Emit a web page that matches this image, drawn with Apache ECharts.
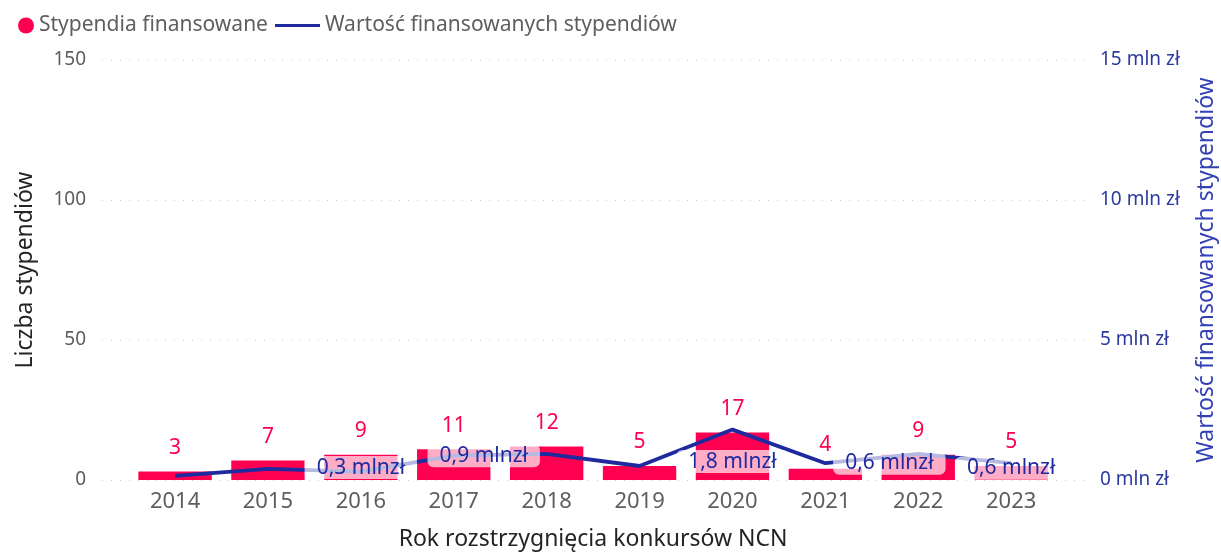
<!DOCTYPE html>
<html>
<head>
<meta charset="utf-8">
<script src="https://cdn.jsdelivr.net/npm/echarts@6/dist/echarts.min.js"></script>
<style>
  html, body { margin: 0; padding: 0; background: #fff; }
  #chart { width: 1221px; height: 552px; }
</style>
</head>
<body>
<div id="chart"></div>
<script>
// dane z wykresu
const years = ['2014', '2015', '2016', '2017', '2018', '2019', '2020', '2021', '2022', '2023'];
const scholarships = [3, 7, 9, 11, 12, 5, 17, 4, 9, 5]; // liczba stypendiów
const fundingMln = [0.15, 0.4, 0.3, 0.87, 0.93, 0.5, 1.8, 0.6, 0.93, 0.6]; // mln zł
const labelledYears = ['2016', '2017', '2020', '2021', '2023'];
const leftTicks = [0, 50, 100, 150];
const rightTicks = [0, 5, 10, 15];

const FONT = "'Segoe UI', 'Noto Sans', sans-serif";
const BAR = '#FF0050';
const LINE = '#1F2A9E';

// przesuniecia etykiet linii (Power BI rozklada je wokol punktow)
const labelOffsets = {
  '2016': [0, -4],
  '2017': [30, 0],
  '2020': [0, 32],
  '2021': [64, 0],
  '2023': [0, 5]
};

const chart = echarts.init(document.getElementById('chart'));

const lineData = fundingMln.map((v, i) => {
  const y = years[i];
  if (labelledYears.indexOf(y) === -1) return { value: v, label: { show: false } };
  return { value: v, label: { show: true, offset: labelOffsets[y] } };
});

const option = {
  animation: false,
  legend: [
    {
      data: ['Stypendia finansowane'],
      left: 13, top: 10,
      icon: 'circle',
      itemWidth: 16, itemHeight: 16, itemGap: 5,
      textStyle: { fontFamily: FONT, fontSize: 21, color: '#605E5C' }
    },
    {
      data: ['Wartość finansowanych stypendiów'],
      left: 270, top: 10,
      icon: 'rect',
      itemWidth: 45, itemHeight: 3,
      textStyle: { fontFamily: FONT, fontSize: 21, color: '#605E5C' }
    }
  ],
  grid: [
    { left: 102, right: 136, top: 60, bottom: 72, outerBoundsMode: 'none' },
    { left: 128.6, right: 163.4, top: 60, bottom: 72, outerBoundsMode: 'none' }
  ],
  xAxis: [
    { gridIndex: 0, type: 'value', min: 0, max: 1, show: false },
    {
      gridIndex: 1,
      type: 'category',
      data: years,
      axisLine: { show: false },
      axisTick: { show: false },
      axisLabel: { fontFamily: FONT, fontSize: 22, color: '#605E5C', margin: 11 },
      name: 'Rok rozstrzygnięcia konkursów NCN',
      nameLocation: 'middle',
      nameGap: 48,
      nameTextStyle: { fontFamily: FONT, fontSize: 23, color: '#252423' }
    }
  ],
  yAxis: [
    {
      gridIndex: 0,
      type: 'value',
      position: 'left',
      min: leftTicks[0], max: leftTicks[leftTicks.length - 1], interval: 50,
      axisLine: { show: false },
      axisTick: { show: false },
      axisLabel: { fontFamily: FONT, fontSize: 19, color: '#605E5C', margin: 16 },
      splitLine: { show: true, lineStyle: { color: '#C8C6C4', type: [1, 8], width: 1 } },
      name: 'Liczba stypendiów',
      nameLocation: 'middle',
      nameGap: 65,
      nameTextStyle: { fontFamily: FONT, fontSize: 23, color: '#252423' }
    },
    {
      gridIndex: 0,
      type: 'value',
      position: 'right',
      min: rightTicks[0], max: rightTicks[rightTicks.length - 1], interval: 5,
      axisLine: { show: false },
      axisTick: { show: false },
      splitLine: { show: false },
      axisLabel: {
        fontFamily: FONT, fontSize: 19, color: '#2B3A9E', margin: 15,
        formatter: v => v + ' mln zł'
      },
      name: 'Wartość finansowanych stypendiów',
      nameLocation: 'middle',
      nameGap: 110,
      nameTextStyle: { fontFamily: FONT, fontSize: 23, color: '#3341B5' }
    },
    { gridIndex: 1, type: 'value', min: 0, max: 150, show: false },
    { gridIndex: 1, type: 'value', min: 0, max: 15, show: false }
  ],
  series: [
    {
      name: 'Stypendia finansowane',
      type: 'bar',
      xAxisIndex: 1,
      yAxisIndex: 2,
      data: scholarships,
      barCategoryGap: '21%',
      itemStyle: { color: BAR },
      label: {
        show: true,
        position: 'top',
        distance: 13,
        fontFamily: FONT,
        fontSize: 21,
        color: BAR
      }
    },
    {
      name: 'Wartość finansowanych stypendiów',
      type: 'line',
      xAxisIndex: 1,
      yAxisIndex: 3,
      data: lineData,
      symbol: 'circle',
      symbolSize: 0,
      showSymbol: true,
      lineStyle: { color: LINE, width: 3.8 },
      itemStyle: { color: LINE },
      z: 3,
      label: {
        position: 'inside',
        fontFamily: FONT,
        fontSize: 21,
        color: LINE,
        backgroundColor: 'rgba(255,255,255,0.68)',
        borderRadius: 6,
        padding: [1, 12],
        formatter: p => p.value.toFixed(1).replace('.', ',') + ' mlnzł'
      }
    }
  ]
};

chart.setOption(option);
</script>
</body>
</html>
